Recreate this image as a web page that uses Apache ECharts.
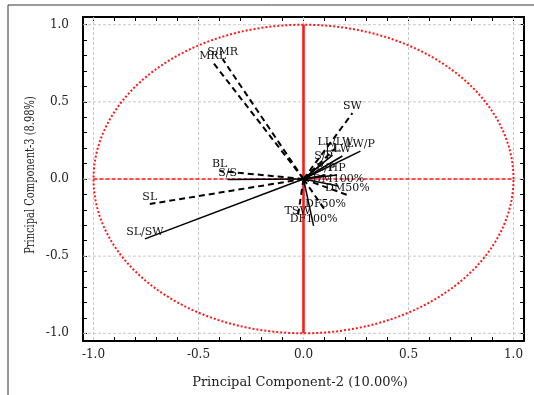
<!DOCTYPE html>
<html>
<head>
<meta charset="utf-8">
<script src="https://cdn.jsdelivr.net/npm/echarts@6/dist/echarts.min.js"></script>
<style>
  html, body { margin: 0; padding: 0; background: #fff; }
  #chart { width: 534px; height: 395px; }
</style>
</head>
<body>
<div id="chart"></div>
<script>
// Trait loadings on principal components 2 and 3
const traits = ['MRL', 'S/MR', 'BL', 'S/S', 'SL', 'SL/SW', 'SW', 'LL/LW', 'LW/P', 'LL', 'LW',
                'S/P', 'B/P', 'HP', 'DM100%', 'DM50%', 'DF50%', 'DF100%', 'TSW'];
const pc2 = [-0.432, -0.385, -0.399, -0.361, -0.732, -0.755, 0.233, 0.152, 0.271, 0.138, 0.185,
             0.095, 0.105, 0.160, 0.166, 0.209, 0.105, 0.048, -0.028];
const pc3 = [0.757, 0.777, 0.052, -0.003, -0.162, -0.388, 0.427, 0.200, 0.181, 0.155, 0.149,
             0.104, 0.026, 0.026, -0.045, -0.104, -0.207, -0.304, -0.252];
// traits whose vectors are drawn with a dashed stroke
const dashedTraits = ['MRL', 'S/MR', 'BL', 'SL', 'SW', 'LL/LW', 'DM50%', 'DF50%', 'TSW'];

const majorTicks = [-1.0, -0.5, 0.0, 0.5, 1.0];
const minorTicks = [-1.0, -0.9, -0.8, -0.7, -0.6, -0.5, -0.4, -0.3, -0.2, -0.1, 0.0,
                    0.1, 0.2, 0.3, 0.4, 0.5, 0.6, 0.7, 0.8, 0.9, 1.0];

const serif = '"DejaVu Serif", "Liberation Serif", serif';

const chart = echarts.init(document.getElementById('chart'), null, { renderer: 'canvas' });

function axisCommon(pos, showLabel) {
  return {
    type: 'value', position: pos, min: -1.05, max: 1.05,
    axisLine: { show: true, onZero: false, lineStyle: { color: '#000', width: 2 } },
    axisTick: { show: true, inside: true, length: 4, customValues: minorTicks,
                lineStyle: { color: '#000', width: 1 } },
    axisLabel: { show: showLabel, customValues: majorTicks,
                 formatter: v => v.toFixed(1),
                 fontFamily: serif, fontSize: 12, color: '#222' },
    splitLine: { show: false }
  };
}

const xBottom = axisCommon('bottom', true);
xBottom.axisLabel.margin = 8;
const xTop = axisCommon('top', false);
const yLeft = axisCommon('left', true);
yLeft.axisLabel.margin = 14;
const yRight = axisCommon('right', false);

// Dashed light grid at the major tick values
function renderGrid(params, api) {
  const cs = params.coordSys;
  const children = [];
  const gs = { stroke: '#c8c8c8', lineWidth: 1, lineDash: [3, 2] };
  majorTicks.forEach(v => {
    const px = api.coord([v, 0])[0];
    const py = api.coord([0, v])[1];
    children.push({ type: 'line', shape: { x1: px, y1: cs.y, x2: px, y2: cs.y + cs.height }, style: gs });
    children.push({ type: 'line', shape: { x1: cs.x, y1: py, x2: cs.x + cs.width, y2: py }, style: gs });
  });
  return { type: 'group', children };
}

// Unit correlation circle plus red reference axes
function renderCircle(params, api) {
  const pts = [];
  for (let k = 0; k <= 360; k += 2) {
    const a = k * Math.PI / 180;
    pts.push(api.coord([Math.cos(a), Math.sin(a)]));
  }
  const l = api.coord([-1, 0]), r = api.coord([1, 0]);
  const b = api.coord([0, -1]), t = api.coord([0, 1]);
  return { type: 'group', children: [
    { type: 'polyline', shape: { points: pts },
      style: { stroke: '#ff1a1a', lineWidth: 2, lineDash: [2, 2], fill: null } },
    { type: 'line', shape: { x1: l[0], y1: l[1], x2: r[0], y2: r[1] },
      style: { stroke: '#ff1a1a', lineWidth: 1.6, lineDash: [4, 2] } },
    { type: 'line', shape: { x1: b[0], y1: b[1], x2: t[0], y2: t[1] },
      style: { stroke: '#ff1a1a', lineWidth: 2.6 } }
  ]};
}

// Loading vectors from the origin, labelled at their tips
function renderVector(params, api) {
  const i = api.value(2);
  const o = api.coord([0, 0]);
  const p = api.coord([api.value(0), api.value(1)]);
  const dashed = dashedTraits.indexOf(traits[i]) >= 0;
  return { type: 'group', children: [
    { type: 'line', shape: { x1: o[0], y1: o[1], x2: p[0], y2: p[1] },
      style: { stroke: '#000', lineWidth: dashed ? 2 : 1.5, lineDash: dashed ? [6, 4] : null } },
    { type: 'text', x: p[0], y: p[1] - 1,
      style: { text: traits[i], fill: '#111', font: '11px ' + serif,
               align: 'center', verticalAlign: 'bottom' } }
  ]};
}

const vectorData = traits.map((n, i) => [pc2[i], pc3[i], i]);

chart.setOption({
  animation: false,
  backgroundColor: '#fff',
  grid: { left: 83, right: 10, top: 17, bottom: 54, containLabel: false },
  xAxis: [xBottom, xTop],
  yAxis: [yLeft, yRight],
  graphic: [
    { type: 'rect', shape: { x: 8, y: 5, width: 600, height: 500 },
      style: { stroke: '#333', lineWidth: 1, fill: null }, silent: true },
    { type: 'text', x: 300, y: 383,
      style: { text: 'Principal Component-2 (10.00%)', font: '13px ' + serif, fill: '#222',
               align: 'center', verticalAlign: 'middle' } },
    { type: 'text', x: 31, y: 175, rotation: Math.PI / 2, scaleX: 0.76,
      style: { text: 'Principal Component-3 (8.98%)', font: '13px ' + serif, fill: '#222',
               align: 'center', verticalAlign: 'middle' } }
  ],
  series: [
    { type: 'custom', xAxisIndex: 0, yAxisIndex: 0, renderItem: renderGrid, data: [[0, 0]], silent: true, z: 1 },
    { type: 'custom', xAxisIndex: 0, yAxisIndex: 0, renderItem: renderCircle, data: [[0, 0]], silent: true, z: 2 },
    { type: 'custom', xAxisIndex: 0, yAxisIndex: 0, renderItem: renderVector, data: vectorData, silent: true, z: 3 }
  ]
});
</script>
</body>
</html>
